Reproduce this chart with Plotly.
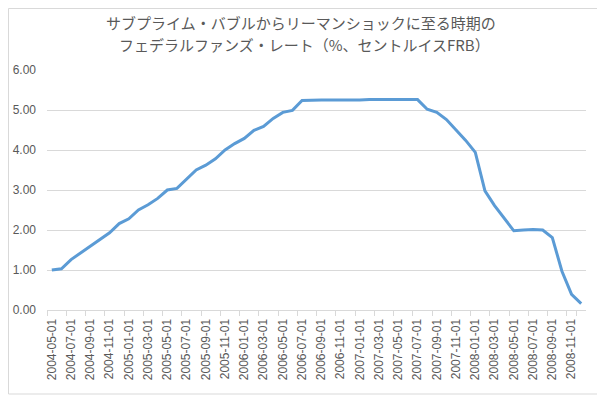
import plotly.graph_objects as go

months = [
    "2004-05-01","2004-06-01","2004-07-01","2004-08-01","2004-09-01","2004-10-01","2004-11-01","2004-12-01",
    "2005-01-01","2005-02-01","2005-03-01","2005-04-01","2005-05-01","2005-06-01","2005-07-01","2005-08-01",
    "2005-09-01","2005-10-01","2005-11-01","2005-12-01",
    "2006-01-01","2006-02-01","2006-03-01","2006-04-01","2006-05-01","2006-06-01","2006-07-01","2006-08-01",
    "2006-09-01","2006-10-01","2006-11-01","2006-12-01",
    "2007-01-01","2007-02-01","2007-03-01","2007-04-01","2007-05-01","2007-06-01","2007-07-01","2007-08-01",
    "2007-09-01","2007-10-01","2007-11-01","2007-12-01",
    "2008-01-01","2008-02-01","2008-03-01","2008-04-01","2008-05-01","2008-06-01","2008-07-01","2008-08-01",
    "2008-09-01","2008-10-01","2008-11-01","2008-12-01",
]
rates = [
    1.00, 1.03, 1.26, 1.43, 1.61, 1.76, 1.93, 2.16,
    2.28, 2.50, 2.63, 2.79, 3.00, 3.04, 3.26, 3.50,
    3.62, 3.78, 4.00, 4.16,
    4.29, 4.49, 4.59, 4.79, 4.94, 4.99, 5.24, 5.25,
    5.25, 5.25, 5.25, 5.24,
    5.25, 5.26, 5.26, 5.25, 5.25, 5.25, 5.26, 5.02,
    4.94, 4.76, 4.49, 4.24,
    3.94, 2.98, 2.61, 2.28, 1.98, 2.00, 2.01, 2.00,
    1.81, 0.97, 0.39, 0.16,
]
tick_labels = months[::2]
y_ticks = [0, 1, 2, 3, 4, 5, 6]

title_line1 = "サブプライム・バブルからリーマンショックに至る時期の"
title_line2 = "フェデラルファンズ・レート（%、セントルイスFRB）"

fig = go.Figure()
fig.add_trace(go.Scatter(
    x=months, y=rates, mode="lines",
    line=dict(color="#5b9bd5", width=3),
    hoverinfo="x+y",
))

gray = "#595959"
tickfam = "Liberation Sans, Arial, sans-serif"
# page body has an 8px margin; the figure is sized/offset to compensate
OFF = 8
PH = 240.0
PW = 539.0
L, T = 47 - OFF, 70 - OFF
W, H = 605 - OFF, 397 - OFF
fig.update_layout(
    width=W, height=H,
    margin=dict(l=L, r=W - L - PW, t=T, b=H - T - PH, autoexpand=False),
    paper_bgcolor="white", plot_bgcolor="white",
    showlegend=False,
    xaxis=dict(
        type="category",
        tickmode="array", tickvals=tick_labels, ticktext=tick_labels,
        tickson="boundaries",
        ticks="outside", ticklen=5, tickcolor="#d9d9d9",
        tickangle=-90,
        showgrid=False,
        showline=True, linecolor="#d9d9d9", linewidth=1,
        range=[-0.5, len(months) - 0.5],
        tickfont=dict(family=tickfam, size=12, color=gray),
        ticklabelstandoff=3,
        automargin=False,
    ),
    yaxis=dict(
        range=[0, 6], tickvals=y_ticks, tickformat=".2f",
        showgrid=True, gridcolor="#d9d9d9", gridwidth=1,
        zeroline=False, showline=False, ticks="",
        tickfont=dict(family=tickfam, size=12, color=gray),
        ticklabelstandoff=10,
        automargin=False,
    ),
    annotations=[
        dict(text=title_line1, xref="paper", yref="paper", x=(301 - 47) / PW, y=1 + (70 - 22) / PH,
             xanchor="center", yanchor="middle", showarrow=False,
             font=dict(family="Noto Sans CJK JP", size=15, color=gray)),
        dict(text=title_line2, xref="paper", yref="paper", x=(304 - 47) / PW, y=1 + (70 - 45) / PH,
             xanchor="center", yanchor="middle", showarrow=False,
             font=dict(family="Noto Sans CJK JP", size=15, color=gray)),
    ],
    shapes=[dict(
        type="rect", xref="paper", yref="paper",
        x0=-(L - 0.5) / PW, x1=1 + (602 - OFF - L - PW) / PW,
        y0=-(394 - OFF - T - PH) / PH, y1=1 + (T - 0.5) / PH,
        line=dict(color="#d9d9d9", width=1), fillcolor="rgba(0,0,0,0)",
    )],
)

fig.write_html("out.html")
